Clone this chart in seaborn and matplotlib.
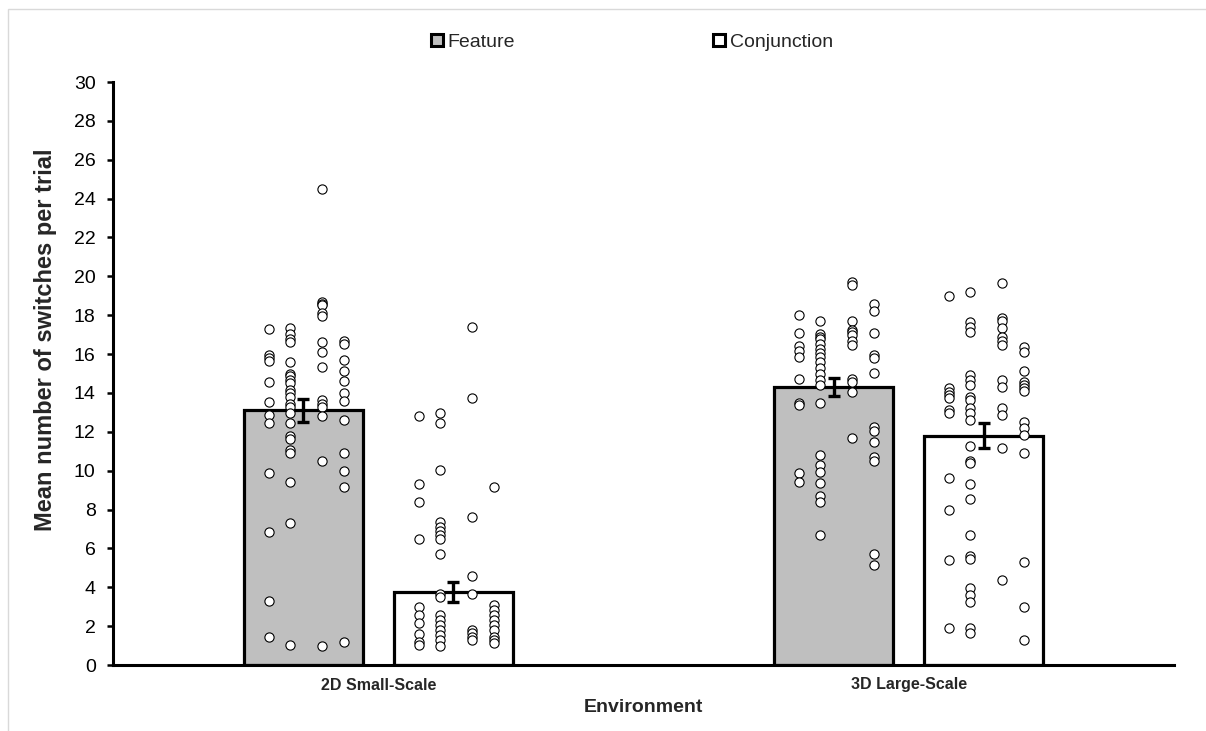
import matplotlib
matplotlib.use("Agg")
import matplotlib.pyplot as plt
import seaborn as sns
import pandas as pd
import numpy as np
from matplotlib.lines import Line2D
from matplotlib.patches import Rectangle

# ---------------- data ----------------
environments = ["2D Small-Scale", "3D Large-Scale"]
conditions = ["Feature", "Conjunction"]

bar_means_feature = [13.1, 14.3]
bar_means_conjunction = [3.75, 11.8]
bar_se_feature = [0.57, 0.45]
bar_se_conjunction = [0.51, 0.64]

# individual participant points, grouped in four visual columns per bar
feature_2d = [
    [17.3, 15.95, 15.8, 15.65, 14.55, 13.55, 12.85, 12.45, 9.9, 6.85, 3.3, 1.45],
    [17.35, 17.05, 16.8, 16.6, 15.6, 15.0, 14.85, 14.65, 14.5, 14.15, 14.0, 13.8,
     13.45, 13.3, 12.95, 12.45, 11.8, 11.65, 11.05, 10.9, 9.4, 7.3, 1.05],
    [24.5, 18.7, 18.6, 18.5, 18.1, 17.95, 16.6, 16.1, 15.35, 13.65, 13.45, 13.3,
     12.8, 10.5, 1.0],
    [16.65, 16.5, 15.7, 15.15, 14.6, 14.0, 13.6, 12.6, 10.9, 10.0, 9.15, 1.2],
]
conjunction_2d = [
    [12.83, 9.32, 8.41, 6.47, 3.0, 2.57, 2.14, 1.58, 1.2, 1.03],
    [12.99, 12.44, 10.04, 7.34, 7.12, 6.91, 6.69, 6.47, 5.71, 3.64, 3.52,
     2.57, 2.32, 2.06, 1.8, 1.54, 1.29, 0.99],
    [17.41, 13.72, 7.63, 4.6, 3.64, 1.8, 1.63, 1.43, 1.29],
    [9.18, 3.09, 2.83, 2.57, 2.32, 2.06, 1.8, 1.46, 1.29, 1.12],
]
feature_3d = [
    [18.0, 17.1, 16.4, 16.15, 15.85, 14.7, 13.5, 13.4, 9.9, 9.4],
    [17.7, 17.05, 16.9, 16.75, 16.5, 16.25, 16.05, 15.85, 15.6, 15.3, 15.0,
     14.65, 14.4, 13.5, 10.8, 10.3, 9.95, 9.35, 8.7, 8.4, 6.7],
    [19.73, 19.56, 17.72, 17.24, 17.12, 16.98, 16.67, 16.47, 14.72, 14.55,
     14.03, 11.7],
    [18.6, 18.2, 17.1, 15.95, 15.8, 15.05, 12.25, 12.05, 11.45, 10.7, 10.5,
     5.7, 5.15],
]
conjunction_3d = [
    [18.99, 14.24, 14.07, 13.9, 13.72, 13.12, 12.95, 9.64, 7.98, 5.4, 1.89],
    [19.18, 17.67, 17.41, 17.12, 14.93, 14.67, 14.41, 13.78, 13.64, 13.21,
     12.95, 12.61, 11.29, 10.5, 10.4, 9.33, 8.56, 6.71, 5.61, 5.46, 3.98,
     3.6, 3.23, 1.89, 1.63],
    [19.68, 17.84, 17.72, 17.33, 16.9, 16.69, 16.47, 14.67, 14.29, 13.21,
     12.87, 11.18, 4.37],
    [16.38, 16.13, 15.15, 14.58, 14.41, 14.24, 14.12, 12.52, 12.18, 11.84,
     10.9, 5.28, 3.0, 1.29],
]

y_ticks = list(range(0, 31, 2))

# ---------------- build tables ----------------
means_df = pd.DataFrame({
    "Environment": environments * 2,
    "Condition": ["Feature"] * 2 + ["Conjunction"] * 2,
    "Mean": bar_means_feature + bar_means_conjunction,
    "SE": bar_se_feature + bar_se_conjunction,
})

bar_width_total = 0.5655
bar_gap = 0.207
slot = bar_width_total / 2
hue_offsets = {"Feature": -slot / 2, "Conjunction": slot / 2}
col_offsets = [-0.065, -0.025, 0.035, 0.076]

sources = {("2D Small-Scale", "Feature"): feature_2d,
           ("2D Small-Scale", "Conjunction"): conjunction_2d,
           ("3D Large-Scale", "Feature"): feature_3d,
           ("3D Large-Scale", "Conjunction"): conjunction_3d}
rows = []
for env_i, env in enumerate(environments):
    for cond in conditions:
        for ci, col in enumerate(sources[(env, cond)]):
            for v in col:
                rows.append({"x": env_i + hue_offsets[cond] + col_offsets[ci],
                             "y": v, "Condition": cond})
points_df = pd.DataFrame(rows)

# ---------------- plot ----------------
sns.set_style("white")
plt.rcParams["font.family"] = ["Liberation Sans", "DejaVu Sans"]

fig = plt.figure(figsize=(12.06, 7.31), dpi=100)
ax = fig.add_axes([113 / 1206, 1 - 665 / 731, (1174 - 113) / 1206, (665 - 82) / 731])

# light border around chart area
fig.patches.append(Rectangle((8 / 1206, -0.1), 1.2, 1 - 9 / 731 + 0.1,
                             transform=fig.transFigure, fill=False,
                             edgecolor="#d9d9d9", linewidth=1.0, zorder=0))

palette = {"Feature": "#BFBFBF", "Conjunction": "#FFFFFF"}
sns.barplot(data=means_df, x="Environment", y="Mean", hue="Condition",
            hue_order=conditions, order=environments, palette=palette,
            edgecolor="black", linewidth=2.3, width=bar_width_total,
            gap=bar_gap, errorbar=None, legend=False, ax=ax, zorder=2)

sns.scatterplot(data=points_df, x="x", y="y", color="white", edgecolor="black",
                linewidth=0.8, s=44, ax=ax, zorder=3, legend=False)

for _, r in means_df.iterrows():
    xc = environments.index(r["Environment"]) + hue_offsets[r["Condition"]]
    ax.errorbar(xc, r["Mean"], yerr=r["SE"], fmt="none", ecolor="black",
                elinewidth=2.4, capsize=4.2, capthick=2.4, zorder=4)

ax.set_xlim(-0.5, 1.5)
ax.set_ylim(0, 30)
ax.set_yticks(y_ticks)
ax.set_yticklabels([str(t) for t in y_ticks], fontsize=14)
ax.tick_params(axis="y", direction="out", length=4.5, width=1.8, pad=8,
               left=True, colors="black")
ax.tick_params(axis="x", length=0, pad=9)
for lab in ax.get_xticklabels():
    lab.set_fontweight("bold")
    lab.set_fontsize(11.5)

for side in ["top", "right"]:
    ax.spines[side].set_visible(False)
for side in ["left", "bottom"]:
    ax.spines[side].set_color("black")
    ax.spines[side].set_linewidth(2.2)

ax.set_xlabel("Environment", fontsize=14, fontweight="bold", labelpad=5)
ax.set_ylabel("Mean number of switches per trial", fontsize=17,
              fontweight="bold")
ax.yaxis.set_label_coords((57 - 113) / 1061, (665 - 340) / 583)

handles = [Line2D([], [], linestyle="none", marker="s", markersize=8.5,
                  markerfacecolor=palette[c], markeredgecolor="black",
                  markeredgewidth=2.2) for c in conditions]
fig.legend(handles, conditions, loc="center", bbox_to_anchor=(632 / 1206, 1 - 42 / 731),
           ncol=2, frameon=False, fontsize=14, handlelength=0.6,
           handletextpad=0.25, columnspacing=10.2, borderpad=0)

fig.savefig("out.png", dpi=100)
